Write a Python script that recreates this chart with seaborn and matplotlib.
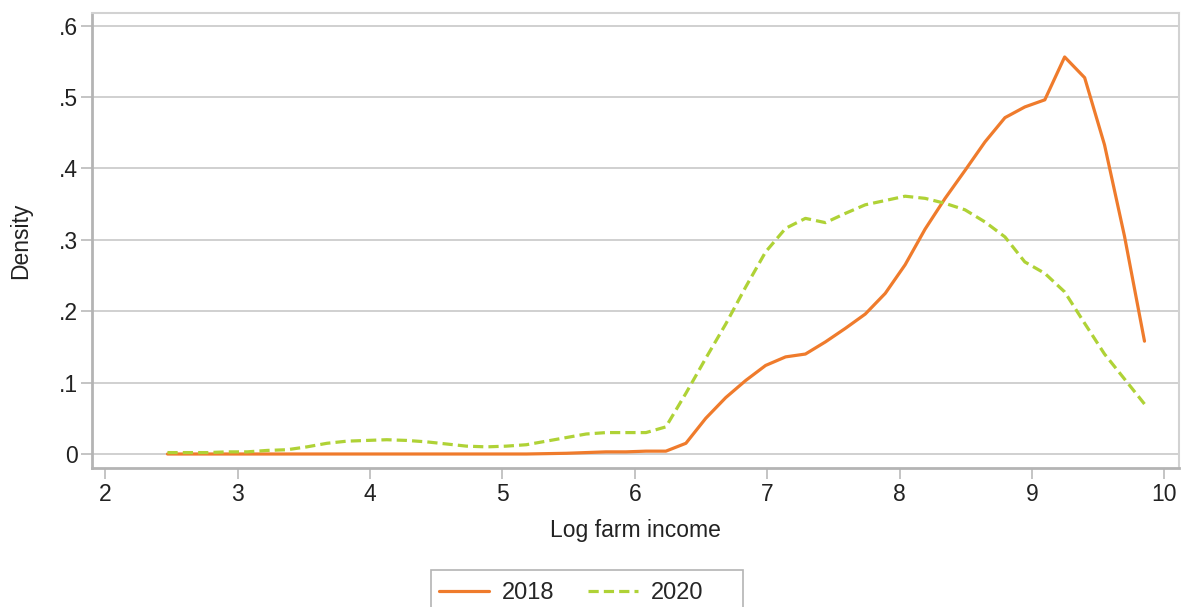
import pandas as pd
import numpy as np
import matplotlib
matplotlib.use('Agg')
import matplotlib.pyplot as plt
from matplotlib.patches import Rectangle
import seaborn as sns

# evaluation grid of the kernel density (50 points)
grid = [2.470, 2.621, 2.771, 2.922, 3.072, 3.223, 3.374, 3.524, 3.675, 3.826,
        3.976, 4.127, 4.277, 4.428, 4.579, 4.729, 4.880, 5.030, 5.181, 5.332,
        5.482, 5.633, 5.783, 5.934, 6.085, 6.235, 6.386, 6.536, 6.687, 6.838,
        6.988, 7.139, 7.289, 7.440, 7.591, 7.741, 7.892, 8.042, 8.193, 8.344,
        8.494, 8.645, 8.796, 8.946, 9.097, 9.247, 9.398, 9.548, 9.699, 9.850]

dens_2018 = [0.000, 0.000, 0.000, 0.000, 0.000, 0.000, 0.000, 0.000, 0.000, 0.000,
             0.000, 0.000, 0.000, 0.000, 0.000, 0.000, 0.000, 0.000, 0.000, 0.0005,
             0.001, 0.002, 0.003, 0.003, 0.004, 0.004, 0.015, 0.050, 0.079, 0.103,
             0.124, 0.136, 0.140, 0.157, 0.176, 0.196, 0.225, 0.265, 0.315, 0.358,
             0.397, 0.437, 0.471, 0.486, 0.496, 0.556, 0.527, 0.433, 0.305, 0.158]

dens_2020 = [0.002, 0.002, 0.002, 0.003, 0.003, 0.005, 0.006, 0.010, 0.015, 0.018,
             0.019, 0.020, 0.019, 0.017, 0.014, 0.011, 0.010, 0.011, 0.013, 0.018,
             0.023, 0.028, 0.030, 0.030, 0.030, 0.038, 0.085, 0.134, 0.182, 0.234,
             0.283, 0.316, 0.330, 0.324, 0.337, 0.349, 0.355, 0.361, 0.358, 0.351,
             0.342, 0.325, 0.304, 0.269, 0.253, 0.227, 0.183, 0.140, 0.105, 0.070]

years = ['2018', '2020']
colors = {'2018': '#ef7b2c', '2020': '#afd236'}

df = pd.concat([
    pd.DataFrame({'x': grid, 'density': dens_2018, 'year': '2018'}),
    pd.DataFrame({'x': grid, 'density': dens_2020, 'year': '2020'}),
])

sns.set_style("white")
plt.rcParams['font.family'] = ['Liberation Sans', 'DejaVu Sans']

W, H = 1184, 607
fig = plt.figure(figsize=(W / 100, H / 100), dpi=100)
ax = fig.add_axes([0.0777, 0.229, 0.918, 0.7496])

sns.lineplot(data=df, x='x', y='density', hue='year', style='year',
             palette=colors, dashes={'2018': '', '2020': (3.2, 1.6)},
             linewidth=2.3, ax=ax, legend=False)

ax.set_xlim(1.9, 10.11)
ax.set_ylim(-0.0196, 0.6176)
ax.set_xticks(range(2, 11))
ax.set_yticks([0, 0.1, 0.2, 0.3, 0.4, 0.5, 0.6])
ax.set_yticklabels(['0', '.1', '.2', '.3', '.4', '.5', '.6'])
ax.yaxis.grid(True, color='#c4c4c4', linewidth=1.1)
ax.set_axisbelow(True)

for side in ['left', 'bottom']:
    ax.spines[side].set_color('#b4b4b4')
    ax.spines[side].set_linewidth(2.0)
for side in ['top', 'right']:
    ax.spines[side].set_color('#d2d2d2')
    ax.spines[side].set_linewidth(1.5)

ax.tick_params(axis='both', which='major', length=8, width=1.1, color='#b4b4b4',
               labelsize=16.5, labelcolor='#222222', direction='out',
               bottom=True, left=True)
ax.tick_params(axis='x', pad=3)
ax.tick_params(axis='y', pad=2)

ax.set_xlabel('Log farm income', fontsize=16.5, color='#222222', labelpad=9)
ax.set_ylabel('Density', fontsize=16.5, color='#222222', labelpad=19)

# legend box (runs off the bottom edge, as in the original)
fig.patches.append(Rectangle((431 / W, 1 - 612 / H), 312 / W, 42 / H,
                             transform=fig.transFigure, facecolor='white',
                             edgecolor='#b4b4b4', linewidth=1.2))

handles = [plt.Line2D([], [], color=colors['2018'], linewidth=2.3),
           plt.Line2D([], [], color=colors['2020'], linewidth=2.3, dashes=(3.2, 1.6))]
fig.legend(handles, years, loc='upper left', bbox_to_anchor=(439 / W, 1 - 582 / H),
           ncol=2, fontsize=17, frameon=False, handlelength=2.1,
           columnspacing=1.45, borderpad=0, borderaxespad=0, handletextpad=0.55)

plt.savefig('out.png', dpi=100)
plt.close()
